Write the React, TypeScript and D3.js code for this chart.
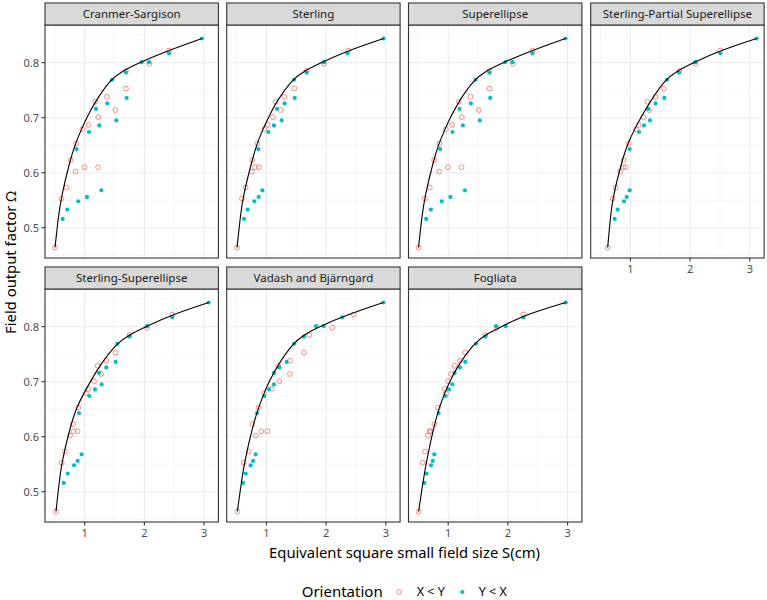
import * as d3 from 'd3';
import React from 'react';

// measured output factors (shared by every model), one per field
const omegaXY = [0.464, 0.553, 0.573, 0.602, 0.61, 0.61, 0.623, 0.653, 0.679, 0.687, 0.701, 0.714, 0.729, 0.738, 0.753, 0.785, 0.798, 0.822];
const omegaYX = [0.516, 0.533, 0.548, 0.556, 0.568, 0.643, 0.674, 0.686, 0.695, 0.716, 0.726, 0.736, 0.769, 0.782, 0.801, 0.801, 0.817, 0.844];
// output factor levels where the fitted curve is sampled
const fitOmega = [0.464, 0.516, 0.553, 0.623, 0.653, 0.679, 0.701, 0.729, 0.769, 0.785, 0.801, 0.822, 0.844];

// equivalent square size S (cm) given by each model
const cranmerXY = [0.503, 0.609, 0.692, 0.849, 0.994, 1.223, 0.765, 0.854, 0.96, 1.066, 1.228, 1.513, 1.178, 1.374, 1.692, 1.692, 2.083, 2.412];
const cranmerYX = [0.631, 0.709, 0.893, 1.038, 1.279, 0.865, 1.072, 1.245, 1.53, 1.189, 1.379, 1.703, 1.457, 1.692, 1.954, 2.077, 2.412, 2.965];
const cranmerFit = [0.503, 0.555, 0.6, 0.755, 0.845, 0.945, 1.04, 1.175, 1.43, 1.63, 1.93, 2.4, 2.965];

const sterlingXY = [0.508, 0.591, 0.653, 0.753, 0.809, 0.876, 0.764, 0.848, 0.965, 1.021, 1.111, 1.239, 1.155, 1.3, 1.468, 1.675, 1.965, 2.372];
const sterlingYX = [0.625, 0.686, 0.798, 0.871, 0.932, 0.865, 1.032, 1.127, 1.256, 1.178, 1.306, 1.474, 1.462, 1.675, 1.965, 1.965, 2.361, 2.964];
const sterlingFit = [0.508, 0.56, 0.6, 0.76, 0.845, 0.94, 1.04, 1.165, 1.43, 1.63, 1.93, 2.37, 2.964];

const superXY = [0.503, 0.609, 0.692, 0.849, 0.994, 1.223, 0.765, 0.854, 0.96, 1.066, 1.228, 1.513, 1.178, 1.374, 1.692, 1.692, 2.083, 2.412];
const superYX = [0.631, 0.709, 0.893, 1.038, 1.279, 0.865, 1.072, 1.245, 1.53, 1.189, 1.379, 1.703, 1.457, 1.692, 1.954, 2.077, 2.412, 2.965];
const superFit = [0.503, 0.555, 0.6, 0.755, 0.845, 0.945, 1.04, 1.175, 1.43, 1.63, 1.93, 2.4, 2.965];

const partialXY = [0.619, 0.703, 0.753, 0.826, 0.882, 0.921, 0.887, 0.971, 1.094, 1.138, 1.217, 1.312, 1.284, 1.418, 1.563, 1.82, 2.088, 2.506];
const partialYX = [0.737, 0.787, 0.893, 0.937, 0.988, 0.988, 1.144, 1.228, 1.328, 1.3, 1.423, 1.568, 1.613, 1.814, 2.088, 2.088, 2.506, 3.115];
const partialFit = [0.619, 0.663, 0.7, 0.862, 0.955, 1.07, 1.18, 1.33, 1.58, 1.78, 2.07, 2.5, 3.115];

const sterSuperXY = [0.519, 0.614, 0.67, 0.754, 0.815, 0.882, 0.804, 0.893, 1.022, 1.061, 1.156, 1.273, 1.217, 1.362, 1.519, 1.753, 2.044, 2.468];
const sterSuperYX = [0.648, 0.715, 0.821, 0.882, 0.949, 0.905, 1.078, 1.173, 1.284, 1.24, 1.362, 1.519, 1.547, 1.748, 2.044, 2.044, 2.468, 3.077];
const sterSuperFit = [0.519, 0.572, 0.612, 0.77, 0.865, 0.985, 1.1, 1.25, 1.53, 1.74, 2.04, 2.47, 3.077];

const vadashXY = [0.513, 0.619, 0.703, 0.826, 0.915, 1.016, 0.764, 0.871, 0.96, 1.088, 1.217, 1.395, 1.2, 1.395, 1.63, 1.719, 2.104, 2.462];
const vadashYX = [0.608, 0.653, 0.737, 0.776, 0.82, 0.843, 0.965, 1.044, 1.127, 1.127, 1.217, 1.34, 1.462, 1.63, 1.831, 1.959, 2.272, 2.959];
const vadashFit = [0.513, 0.58, 0.63, 0.78, 0.87, 0.96, 1.05, 1.185, 1.44, 1.62, 1.9, 2.36, 2.959];

const fogliataXY = [0.505, 0.572, 0.611, 0.662, 0.69, 0.706, 0.768, 0.829, 0.963, 0.941, 0.997, 1.047, 1.108, 1.198, 1.287, 1.622, 1.812, 2.258];
const fogliataYX = [0.6, 0.639, 0.712, 0.74, 0.768, 0.84, 0.952, 1.013, 1.069, 1.108, 1.198, 1.287, 1.466, 1.622, 1.801, 1.963, 2.258, 2.968];
const fogliataFit = [0.505, 0.575, 0.63, 0.77, 0.85, 0.94, 1.03, 1.16, 1.43, 1.61, 1.91, 2.3, 2.968];

const facetNames = ['Cranmer-Sargison', 'Sterling', 'Superellipse', 'Sterling-Partial Superellipse', 'Sterling-Superellipse', 'Vadash and Bjärngard', 'Fogliata'];
const facetXY = [cranmerXY, sterlingXY, superXY, partialXY, sterSuperXY, vadashXY, fogliataXY];
const facetYX = [cranmerYX, sterlingYX, superYX, partialYX, sterSuperYX, vadashYX, fogliataYX];
const facetFit = [cranmerFit, sterlingFit, superFit, partialFit, sterSuperFit, vadashFit, fogliataFit];

const xTicks = [1, 2, 3];
const xMinor = [0.5, 1.5, 2.5];
const yTicks = [0.5, 0.6, 0.7, 0.8];
const yMinor = [0.45, 0.55, 0.65, 0.75, 0.85];

const RED = '#F8766D';
const TEAL = '#00BFC4';
const FONT = "'Noto Sans', sans-serif";

const colLeft = [45, 226.7, 408.5, 590.7];
const rowTop = [25, 289];
const panelW = 173.4;
const panelH = 233;
const stripH = 22;

const x = d3.scaleLinear().domain([0.335, 3.24]).range([0, panelW]);
const y = d3.scaleLinear().domain([0.445, 0.8685]).range([panelH, 0]);

// smooth fitted curve through the sampled knots
const fitLine = d3
  .line<[number, number]>()
  .x((d) => x(d[0]))
  .y((d) => y(d[1]))
  .curve(d3.curveBasis);

const Panel = ({ i }: { i: number }) => {
  const col = i % 4;
  const row = Math.floor(i / 4);
  const left = colLeft[col];
  const top = rowTop[row];
  const showX = row === 1 || i + 4 >= facetNames.length;
  const fit = facetFit[i].map((s, k) => [s, fitOmega[k]] as [number, number]);

  return (
    <g transform={`translate(${left},${top})`}>
      <rect width={panelW} height={panelH} fill="#fff" />
      {xMinor.map((t) => (
        <line key={'xm' + t} x1={x(t)} x2={x(t)} y1={0} y2={panelH} stroke="#EBEBEB" strokeWidth={0.55} />
      ))}
      {yMinor.map((t) => (
        <line key={'ym' + t} x1={0} x2={panelW} y1={y(t)} y2={y(t)} stroke="#EBEBEB" strokeWidth={0.55} />
      ))}
      {xTicks.map((t) => (
        <line key={'x' + t} x1={x(t)} x2={x(t)} y1={0} y2={panelH} stroke="#EBEBEB" strokeWidth={1.1} />
      ))}
      {yTicks.map((t) => (
        <line key={'y' + t} x1={0} x2={panelW} y1={y(t)} y2={y(t)} stroke="#EBEBEB" strokeWidth={1.1} />
      ))}
      {facetXY[i].map((s, k) => (
        <circle key={'r' + k} cx={x(s)} cy={y(omegaXY[k])} r={2.4} fill="none" stroke={RED} strokeWidth={0.85} />
      ))}
      {facetYX[i].map((s, k) => (
        <circle key={'t' + k} cx={x(s)} cy={y(omegaYX[k])} r={2.1} fill={TEAL} />
      ))}
      <path d={fitLine(fit) ?? ''} fill="none" stroke="#000" strokeWidth={1.1} />
      <rect width={panelW} height={panelH} fill="none" stroke="#333333" strokeWidth={1.1} />

      {/* strip */}
      <rect y={-stripH} width={panelW} height={stripH} fill="#D9D9D9" stroke="#333333" strokeWidth={1.1} />
      <text x={panelW / 2} y={-stripH / 2} dy="0.35em" textAnchor="middle" fontSize={11.5} fill="#1A1A1A">
        {facetNames[i]}
      </text>

      {col === 0 &&
        yTicks.map((t) => (
          <g key={'yl' + t} transform={`translate(0,${y(t)})`}>
            <line x1={-3.5} x2={0} stroke="#333333" strokeWidth={1.1} />
            <text x={-6} dy="0.35em" textAnchor="end" fontSize={11} fill="#4D4D4D">
              {t.toFixed(1)}
            </text>
          </g>
        ))}
      {showX &&
        xTicks.map((t) => (
          <g key={'xl' + t} transform={`translate(${x(t)},${panelH})`}>
            <line y1={0} y2={3.5} stroke="#333333" strokeWidth={1.1} />
            <text y={11.5} dy="0.35em" textAnchor="middle" fontSize={11} fill="#4D4D4D">
              {t}
            </text>
          </g>
        ))}
    </g>
  );
};

const App = () => {
  const centerX = (colLeft[0] + colLeft[3] + panelW) / 2;
  const centerY = (rowTop[0] - stripH + rowTop[1] + panelH) / 2;
  return (
    <svg
      width={767}
      height={600}
      style={{ position: 'absolute', left: 0, top: 0, background: '#fff' }}
      fontFamily={FONT}
    >
      <rect width={767} height={600} fill="#fff" />
      {facetNames.map((_, i) => (
        <Panel key={i} i={i} />
      ))}
      <text x={centerX} y={553} dy="0.35em" textAnchor="middle" fontSize={14.8} fill="#000">
        Equivalent square small field size S(cm)
      </text>
      <text
        transform={`translate(11,${centerY}) rotate(-90)`}
        dy="0.35em"
        textAnchor="middle"
        fontSize={14.8}
        fill="#000"
      >
        Field output factor Ω
      </text>

      {/* legend */}
      <g transform="translate(0,592)">
        <text x={301.7} dy="0.35em" fontSize={15} fill="#000">
          Orientation
        </text>
        <circle cx={399} r={2.4} fill="none" stroke={RED} strokeWidth={0.85} />
        <text x={416.7} dy="0.35em" fontSize={12.5} fill="#000">
          X &lt; Y
        </text>
        <circle cx={462.3} r={2.1} fill={TEAL} />
        <text x={478.7} dy="0.35em" fontSize={12.5} fill="#000">
          Y &lt; X
        </text>
      </g>
    </svg>
  );
};

export default App;
